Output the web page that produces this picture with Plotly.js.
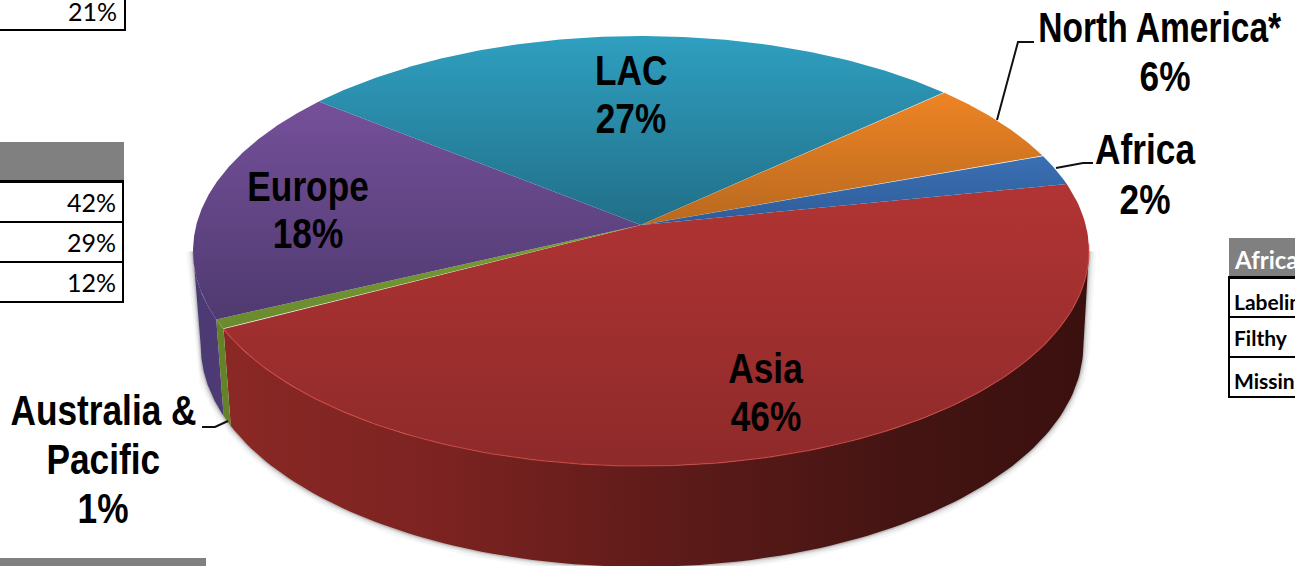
<!DOCTYPE html>
<html>
<head>
<meta charset="utf-8">
<script src="https://cdn.plot.ly/plotly-3.0.1.min.js"></script>
<style>html,body{margin:0;padding:0;background:#fff;overflow:hidden}#chart{width:1295px;height:566px;overflow:hidden}</style>
</head>
<body>
<div id="chart"></div>
<script>
// Data, clockwise from the Africa/Asia boundary
const regions = ['Asia', 'Australia & Pacific', 'Europe', 'LAC', 'North America*', 'Africa'];
const shares = [45.5, 0.72, 17.72, 27.39, 6.3, 2.37];
const faceTop = ['#b23434', '#76a032', '#75509a', '#2f9fc0', '#ee8424', '#3a70b4'];
const faceBottom = ['#8e2a2a', '#6a8a2e', '#4f3a70', '#216f88', '#b8691f', '#2f5c98'];
const wallStops = [
  [[0, '#8a2825'], [0.25, '#7c2321'], [0.55, '#5a1a18'], [0.8, '#431412'], [1, '#3a100e']],
  [[0, '#648228'], [1, '#648228']],
  [[0, '#4a3a72'], [1, '#4f3a76']]
];
const tableLeft = ['42%', '29%', '12%'];
const tableRight = ['Labeling', 'Filthy', 'Missing'];
const tableRightY = [301, 337, 380];

// Projection of the tilted disc
const K = 0.121, A = 444.7, B = 211.9, START = 11.4;
const top3d = th => { const c = Math.cos(th), s = Math.sin(th), d = 1 + K * s;
  return [641 + A * c / d, 225 - B * s / d]; };
const low3d = th => { const c = Math.cos(th), s = Math.sin(th), d = 1 + K * s;
  return [642 + 0.985 * A * c / d, 319 - 1.028 * B * s / d]; };
const rad = d => d * Math.PI / 180;
const total = shares.reduce((a, b) => a + b, 0);
let cum = 0;
const arcs = shares.map(v => { const a0 = START - cum / total * 360; cum += v; return [a0, START - cum / total * 360]; });
const range = (a, b, n) => { const o = []; for (let i = 0; i <= n; i++) o.push(a + (b - a) * i / n); return o; };

const traces = [];
// soft shadow along the lower edge and up the two sides
[[14, 0.03], [9, 0.05], [5, 0.08], [2.5, 0.12]].forEach(([w, op]) => {
  const pts = [top3d(rad(-173))].concat(range(-173, -7, 200).map(d => low3d(rad(d))), [top3d(rad(-7))]);
  traces.push({ type: 'scatter', mode: 'lines', x: pts.map(p => p[0]), y: pts.map(p => p[1]), hoverinfo: 'skip',
    line: { color: `rgba(0,0,0,${op})`, width: w } });
});
// walls: Asia, Australia, Europe
const wallIdx = [0, 1, 2];
wallIdx.forEach((i, k) => {
  let [a0, a1] = arcs[i];
  if (i === 0) a0 = -7;   // silhouette on the right
  if (i === 2) a1 = -173; // silhouette on the left
  const angs = range(a0, a1, 120).map(rad);
  const t = angs.map(top3d), b = angs.map(low3d).reverse();
  const pts = t.concat(b);
  pts.push(pts[0]);
  traces.push({ type: 'scatter', mode: 'lines', x: pts.map(p => p[0]), y: pts.map(p => p[1]), fill: 'toself',
    hoverinfo: 'skip', line: { width: 0, color: 'rgba(0,0,0,0)' },
    fillgradient: { type: 'horizontal', colorscale: wallStops[k] } });
});
// top faces
arcs.forEach((arc, i) => {
  const pts = [[641, 225]].concat(range(arc[0], arc[1], 160).map(d => top3d(rad(d))));
  pts.push([641, 225]);
  traces.push({ type: 'scatter', mode: 'lines', x: pts.map(p => p[0]), y: pts.map(p => p[1]), fill: 'toself',
    hoverinfo: 'skip', name: regions[i], line: { width: 0, color: 'rgba(0,0,0,0)' },
    fillgradient: { type: 'vertical', colorscale: [[0, faceBottom[i]], [1, faceTop[i]]] } });
});
// lit rim of the front slice
const rim = range(-5, arcs[0][1], 160).map(d => top3d(rad(d)));
traces.push({ type: 'scatter', mode: 'lines', x: rim.map(p => p[0]), y: rim.map(p => p[1]), hoverinfo: 'skip',
  line: { color: 'rgba(205,70,65,0.75)', width: 1.2 } });

const pct = i => Math.round(shares[i]) + '%';
const font = { family: '"Liberation Sans",sans-serif', size: 43, color: '#000' };
const lbl = (x, y, t) => ({ x, y, xref: 'x', yref: 'y', text: '<b>' + t + '</b>', showarrow: false, font, xanchor: 'center', yanchor: 'middle' });
const cellFont = { family: 'Lato, sans-serif', size: 25, color: '#000' };
const annotations = [
  lbl(631, 70, 'LAC'), lbl(631, 118, pct(3)),
  lbl(308, 186, 'Europe'), lbl(308, 233, pct(2)),
  lbl(766, 368, 'Asia'), lbl(766, 416, pct(0)),
  lbl(1160, 27, regions[4]), lbl(1165, 76, pct(4)),
  lbl(1145, 149, regions[5]), lbl(1145, 199, pct(5)),
  lbl(103, 410, 'Australia &amp;'), lbl(103, 459, 'Pacific'), lbl(103, 508, pct(1))
];
const bigCount = annotations.length;
const rtext = (x, y, t) => ({ x, y, xref: 'x', yref: 'y', text: t, showarrow: false, font: cellFont, xanchor: 'right', yanchor: 'middle' });
annotations.push(rtext(119, 11, '21%'));
tableLeft.forEach((t, i) => annotations.push(rtext(118, 202 + i * 40, t)));
annotations.push({ x: 1232, y: 259, xref: 'x', yref: 'y', text: '<b>Africa</b>', showarrow: false, xanchor: 'left', yanchor: 'middle',
  font: { family: 'Lato, sans-serif', size: 24, color: '#fff' } });
tableRight.forEach((t, i) => annotations.push({ x: 1232, y: tableRightY[i], xref: 'x', yref: 'y', text: '<b>' + t + '</b>', showarrow: false,
  xanchor: 'left', yanchor: 'middle', font: { family: 'Lato, sans-serif', size: 21, color: '#000' } }));

const rect = (x0, y0, x1, y1, c) => ({ type: 'rect', xref: 'x', yref: 'y', x0, y0, x1, y1, fillcolor: c, line: { width: 0 }, layer: 'above' });
const black = '#000';
const shapes = [
  rect(-5, 29, 126, 31, black), rect(124, -5, 126, 31, black),
  rect(-5, 142, 124, 180, '#808080'), rect(-5, 180, 124, 183, black),
  rect(-5, 221, 124, 223, black), rect(-5, 261, 124, 263, black), rect(-5, 301, 124, 303, black),
  rect(122, 180, 124, 303, black),
  rect(-5, 558, 206, 571, '#808080'),
  rect(1229, 238, 1300, 276, '#808080'), rect(1228, 276, 1300, 279, black),
  rect(1228, 316, 1300, 318, black), rect(1228, 356, 1300, 358, black), rect(1228, 396, 1300, 398, black),
  rect(1228, 276, 1230, 398, black),
  { type: 'path', xref: 'x', yref: 'y', path: 'M997,120 L1018,42 L1034,42', line: { color: '#111', width: 2 } },
  { type: 'path', xref: 'x', yref: 'y', path: 'M1056,168 L1083,163 L1093,163', line: { color: '#111', width: 2 } },
  { type: 'path', xref: 'x', yref: 'y', path: 'M228,421 L215,427 L202,427', line: { color: '#111', width: 2 } }
];

const layout = {
  width: 1295, height: 566, margin: { l: 0, r: 0, t: 0, b: 0 }, showlegend: false,
  paper_bgcolor: '#fff', plot_bgcolor: '#fff',
  xaxis: { range: [0, 1295], visible: false, fixedrange: true },
  yaxis: { range: [566, 0], visible: false, fixedrange: true },
  annotations, shapes
};
Plotly.newPlot('chart', traces, layout, { displayModeBar: false, staticPlot: true }).then(gd => {
  // condense the large labels: no condensed face is installed
  gd.querySelectorAll('.annotation').forEach(n => {
    const idx = +n.getAttribute('data-index');
    if (idx >= bigCount) return;
    const t = n.querySelector('text');
    const box = t.getBBox();
    const cx = box.x + box.width / 2;
    const scale = t.textContent === regions[4] ? 0.78 : 0.82;
    t.setAttribute('transform', `translate(${cx} 0) scale(${scale} 1) translate(${-cx} 0)`);
  });
});
</script>
</body>
</html>
